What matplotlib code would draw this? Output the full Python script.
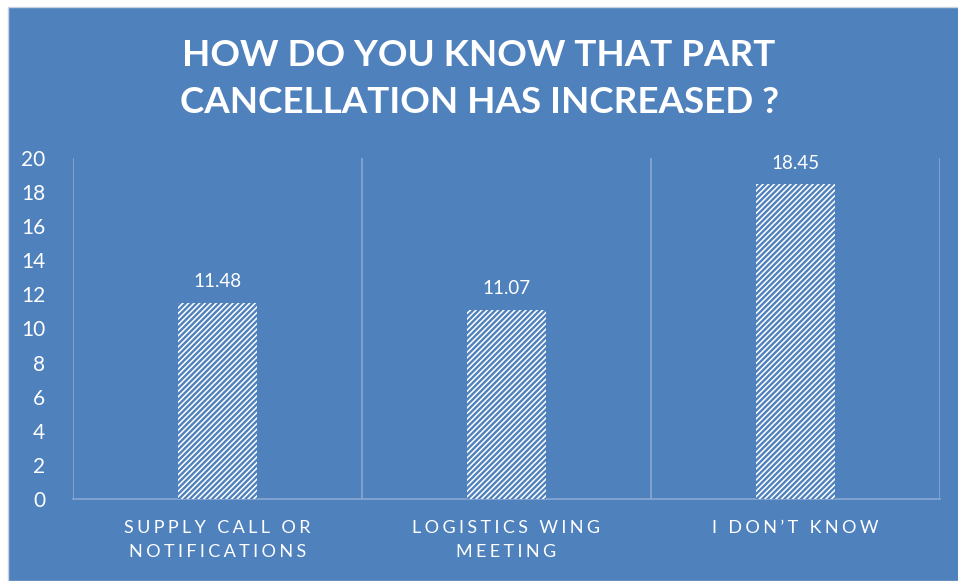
import matplotlib.pyplot as plt
from matplotlib.patches import Rectangle

categories = ["SUPPLY CALL OR\nNOTIFICATIONS", "LOGISTICS WING\nMEETING", "I DON\u2019T KNOW"]
values = [11.48, 11.07, 18.45]
yticks = [0, 2, 4, 6, 8, 10, 12, 14, 16, 18, 20]
title = "HOW DO YOU KNOW THAT PART\nCANCELLATION HAS INCREASED ?"

BLUE = "#4f81bd"
GRID = "#8aa8d4"


def spaced(text, gap="\u2009\u200a"):
    # widen the letter spacing of the category labels
    return "\n".join(gap.join(line) for line in text.split("\n"))


plt.rcParams["font.family"] = ["Lato", "DejaVu Sans"]
plt.rcParams["hatch.linewidth"] = 1.7

fig = plt.figure(figsize=(9.58, 5.81), dpi=100)
fig.patch.set_facecolor("white")
fig.patches.append(Rectangle((8 / 958, 0), 1, 1 - 7 / 581, transform=fig.transFigure,
                             facecolor=BLUE, edgecolor="#c9d3e0", linewidth=1.0, zorder=-5))

ax = fig.add_axes([73 / 958, 1 - 499 / 581, (940 - 73) / 958, (499 - 158) / 581])
ax.set_facecolor("none")
ax.set_zorder(2)

x = list(range(len(values)))
bars = ax.bar(x, values, width=0.27, color="white", edgecolor=BLUE, linewidth=0,
              hatch="//////", zorder=3)
for xi, v in zip(x, values):
    ax.text(xi, v + 0.75, f"{v:.2f}", ha="center", va="bottom", color="white", fontsize=13.5)

ax.set_xlim(-0.5, len(values) - 0.5)
ax.set_ylim(0, 20)
ax.set_yticks(yticks)
ax.set_yticklabels([str(t) for t in yticks], color="white", fontsize=15)
ax.set_xticks(x)
ax.set_xticklabels([spaced(c) for c in categories], color="white", fontsize=13, linespacing=1.65)
ax.tick_params(axis="both", length=0)
ax.tick_params(axis="y", pad=20)
ax.tick_params(axis="x", pad=15)
for label in ax.get_yticklabels():
    label.set_horizontalalignment("right")

for b in [-0.5, 0.5, 1.5, 2.5]:
    ax.axvline(b, color=GRID, linewidth=1.2, zorder=1)
for side in ["top", "right", "left"]:
    ax.spines[side].set_visible(False)
ax.spines["bottom"].set_color(GRID)
ax.spines["bottom"].set_linewidth(1.2)

fig.text(0.5, 1 - 79 / 581, title, ha="center", va="center", color="white",
         fontsize=26.5, fontweight="bold", linespacing=1.55)

fig.savefig("out.png", dpi=100, facecolor=fig.get_facecolor())
